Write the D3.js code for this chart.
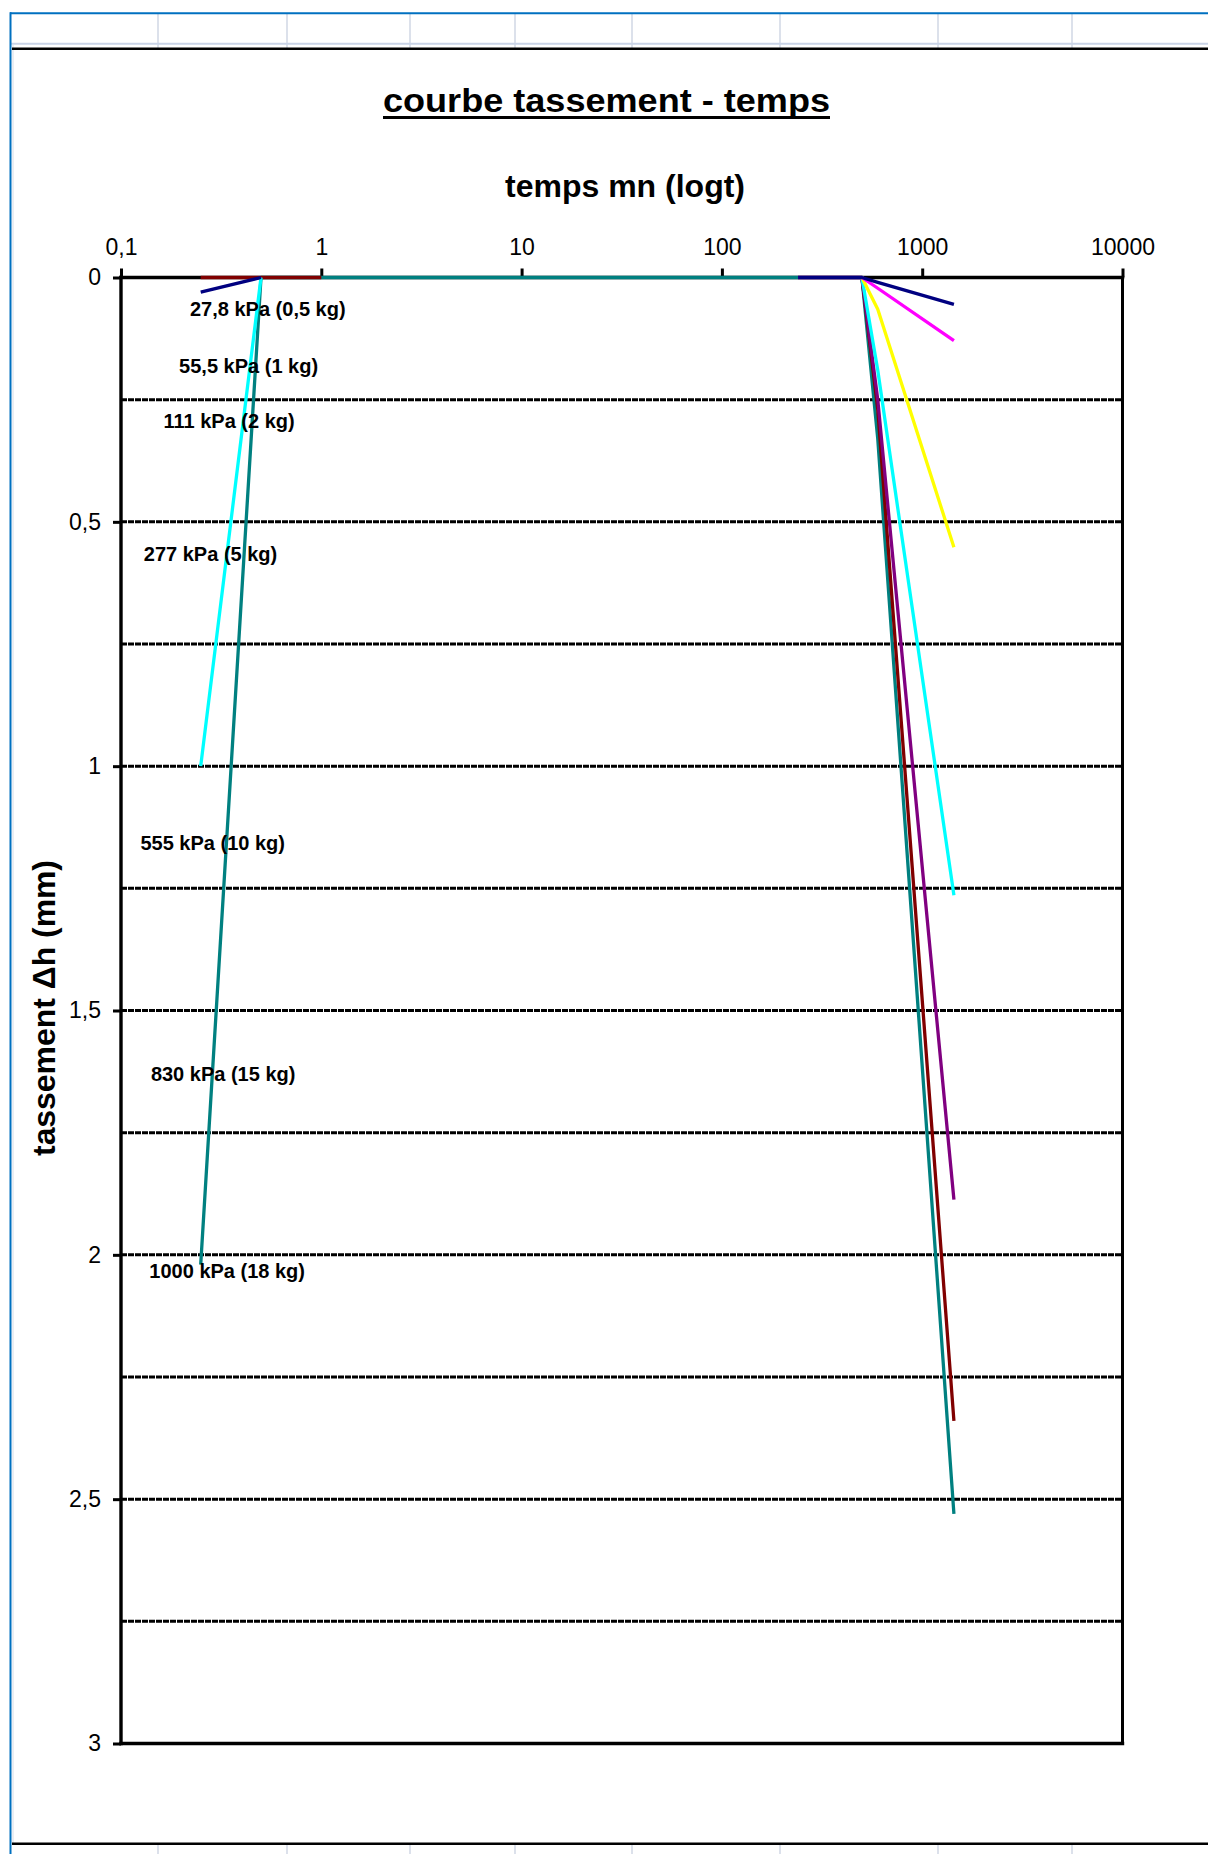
<!DOCTYPE html>
<html>
<head>
<meta charset="utf-8">
<script src="https://cdn.jsdelivr.net/npm/d3@7"></script>
<style>
  html, body { margin: 0; padding: 0; background: #fff; }
  svg { display: block; font-family: "Liberation Sans", Arial, sans-serif; }
</style>
</head>
<body>
<svg width="1208" height="1854"></svg>
<script>
// reading times (mn)
const times = [0.25, 0.5, 1, 2, 4, 8, 15, 30, 60, 120, 240, 500, 600, 1440];

// settlement (mm) for each load step, null = no reading
const s27_8 = [0.03, 0, null, null, null, null, null, null, null, null, 0, 0, 0.01, 0.055];
const s55_5 = [null, null, null, null, null, null, null, null, null, null, 0, 0, 0.022, 0.129];
const s111 = [null, null, null, null, null, null, null, null, null, null, 0, 0, 0.065, 0.552];
const s277 = [1.0, 0, null, null, null, null, null, null, null, null, 0, 0, 0.19, 1.264];
const s555 = [null, null, null, null, null, null, null, null, null, null, 0, 0, 0.25, 1.887];
const s830 = [0, 0, 0, null, null, null, null, null, null, null, null, 0, 0.27, 2.34];
const s1000 = [2.02, 0, 0, 0, 0, 0, 0, 0, 0, 0, 0, 0, 0.33, 2.53];

const seriesNames = ["27,8 kPa (0,5 kg)", "55,5 kPa (1 kg)", "111 kPa (2 kg)", "277 kPa (5 kg)",
  "555 kPa (10 kg)", "830 kPa (15 kg)", "1000 kPa (18 kg)"];
const seriesValues = [s27_8, s55_5, s111, s277, s555, s830, s1000];
const seriesColors = ["#000080", "#ff00ff", "#ffff00", "#00ffff", "#800080", "#800000", "#008080"];

// where each load label sits, in chart units
const labelTimes = [0.221, 0.195, 0.163, 0.130, 0.125, 0.141, 0.1385];
const labelDepths = [0.079, 0.195, 0.307, 0.580, 1.171, 1.644, 2.047];

const xTicks = [0.1, 1, 10, 100, 1000, 10000];
const yTicks = [0, 0.5, 1, 1.5, 2, 2.5, 3];
const yGrid = [0.25, 0.5, 0.75, 1, 1.25, 1.5, 1.75, 2, 2.25, 2.5, 2.75];

const svg = d3.select("svg");
const W = +svg.attr("width");
const H = +svg.attr("height");
const fmt = d => String(d).replace(".", ",");

// spreadsheet frame around the chart
const cellCols = [158, 287, 410, 515, 632, 780, 938, 1072];
const frame = svg.append("g");
frame.append("rect").attr("x", 0).attr("y", 0).attr("width", W).attr("height", H).attr("fill", "#fff");
cellCols.forEach(cx => {
  frame.append("line").attr("x1", cx).attr("x2", cx).attr("y1", 14).attr("y2", 48)
    .attr("stroke", "#d0d7e5").attr("stroke-width", 1.5);
  frame.append("line").attr("x1", cx).attr("x2", cx).attr("y1", 1845).attr("y2", H)
    .attr("stroke", "#d0d7e5").attr("stroke-width", 1.5);
});
frame.append("line").attr("x1", 11).attr("x2", W).attr("y1", 43.7).attr("y2", 43.7)
  .attr("stroke", "#c9d3e6").attr("stroke-width", 2);
frame.append("line").attr("x1", 10).attr("x2", W).attr("y1", 13.3).attr("y2", 13.3)
  .attr("stroke", "#0070c0").attr("stroke-width", 2);
frame.append("line").attr("x1", 10.5).attr("x2", 10.5).attr("y1", 12.3).attr("y2", H)
  .attr("stroke", "#0070c0").attr("stroke-width", 2);
frame.append("line").attr("x1", 13).attr("x2", 13).attr("y1", 45).attr("y2", 1843)
  .attr("stroke", "#d8dde6").attr("stroke-width", 1);
frame.append("line").attr("x1", 12).attr("x2", W).attr("y1", 48.8).attr("y2", 48.8)
  .attr("stroke", "#000").attr("stroke-width", 2.6);
frame.append("line").attr("x1", 12).attr("x2", W).attr("y1", 1843.7).attr("y2", 1843.7)
  .attr("stroke", "#000").attr("stroke-width", 2.6);

// scales
const x = d3.scaleLog().domain([0.1, 10000]).range([121, 1122.5]);
const y = d3.scaleLinear().domain([0, 3]).range([277.5, 1743.5]);

// dashed grid every 0,25 mm
svg.append("g")
  .selectAll("line")
  .data(yGrid)
  .join("line")
  .attr("x1", x(0.1)).attr("x2", x(10000))
  .attr("y1", d => y(d)).attr("y2", d => y(d))
  .attr("stroke", "#000")
  .attr("stroke-width", 3)
  .attr("stroke-dasharray", "6 1");

// axes
const xAxis = svg.append("g")
  .attr("transform", `translate(0,${y(0)})`)
  .call(d3.axisTop(x).tickValues(xTicks).tickFormat(fmt).tickSize(9).tickSizeOuter(0).tickPadding(13.5));
const yAxis = svg.append("g")
  .attr("transform", `translate(${x(0.1)},0)`)
  .call(d3.axisLeft(y).tickValues(yTicks).tickFormat(fmt).tickSize(8).tickSizeOuter(0).tickPadding(12));
[xAxis, yAxis].forEach(g => {
  g.select(".domain").remove();
  g.selectAll(".tick line").attr("stroke", "#000").attr("stroke-width", 3);
  g.selectAll(".tick text")
    .attr("fill", "#000")
    .style("font-size", "23px")
    .style("font-family", "'Liberation Sans', Arial, sans-serif");
});

// plot border
const border = svg.append("g").attr("stroke", "#000").attr("stroke-linecap", "square");
border.append("line").attr("x1", x(0.1)).attr("x2", x(10000)).attr("y1", y(0)).attr("y2", y(0)).attr("stroke-width", 3.4);
border.append("line").attr("x1", x(0.1)).attr("x2", x(0.1)).attr("y1", y(0)).attr("y2", y(3)).attr("stroke-width", 3.4);
border.append("line").attr("x1", x(10000)).attr("x2", x(10000)).attr("y1", y(0)).attr("y2", y(3)).attr("stroke-width", 3);
border.append("line").attr("x1", x(0.1)).attr("x2", x(10000)).attr("y1", y(3)).attr("y2", y(3)).attr("stroke-width", 3.4);

// curves (last load step drawn first)
const series = seriesNames.map((name, i) => ({
  name,
  color: seriesColors[i],
  points: times.map((t, j) => ({ t, v: seriesValues[i][j] }))
}));
const line = d3.line()
  .defined(d => d.v !== null)
  .x(d => x(d.t))
  .y(d => y(d.v));
svg.append("g")
  .selectAll("path")
  .data(series.slice().reverse())
  .join("path")
  .attr("d", d => line(d.points))
  .attr("fill", "none")
  .attr("stroke", d => d.color)
  .attr("stroke-width", 3.3)
  .attr("stroke-linejoin", "round");

// load step labels
svg.append("g")
  .selectAll("text")
  .data(seriesNames)
  .join("text")
  .attr("x", (d, i) => x(labelTimes[i]))
  .attr("y", (d, i) => y(labelDepths[i]))
  .attr("font-size", 20)
  .attr("font-weight", "bold")
  .attr("fill", "#000")
  .text(d => d);

// titles
svg.append("text")
  .attr("x", 606.5).attr("y", 112)
  .attr("text-anchor", "middle")
  .attr("font-size", 34).attr("font-weight", "bold")
  .attr("textLength", 447).attr("lengthAdjust", "spacingAndGlyphs")
  .text("courbe tassement - temps");
svg.append("line")
  .attr("x1", 383).attr("x2", 830).attr("y1", 117.5).attr("y2", 117.5)
  .attr("stroke", "#000").attr("stroke-width", 3);
svg.append("text")
  .attr("x", 625).attr("y", 197)
  .attr("text-anchor", "middle")
  .attr("font-size", 32).attr("font-weight", "bold")
  .attr("textLength", 240).attr("lengthAdjust", "spacingAndGlyphs")
  .text("temps mn (logt)");
svg.append("text")
  .attr("transform", "translate(55,1008) rotate(-90)")
  .attr("text-anchor", "middle")
  .attr("font-size", 32).attr("font-weight", "bold")
  .attr("textLength", 296).attr("lengthAdjust", "spacingAndGlyphs")
  .text("tassement \u0394h (mm)");
</script>
</body>
</html>
